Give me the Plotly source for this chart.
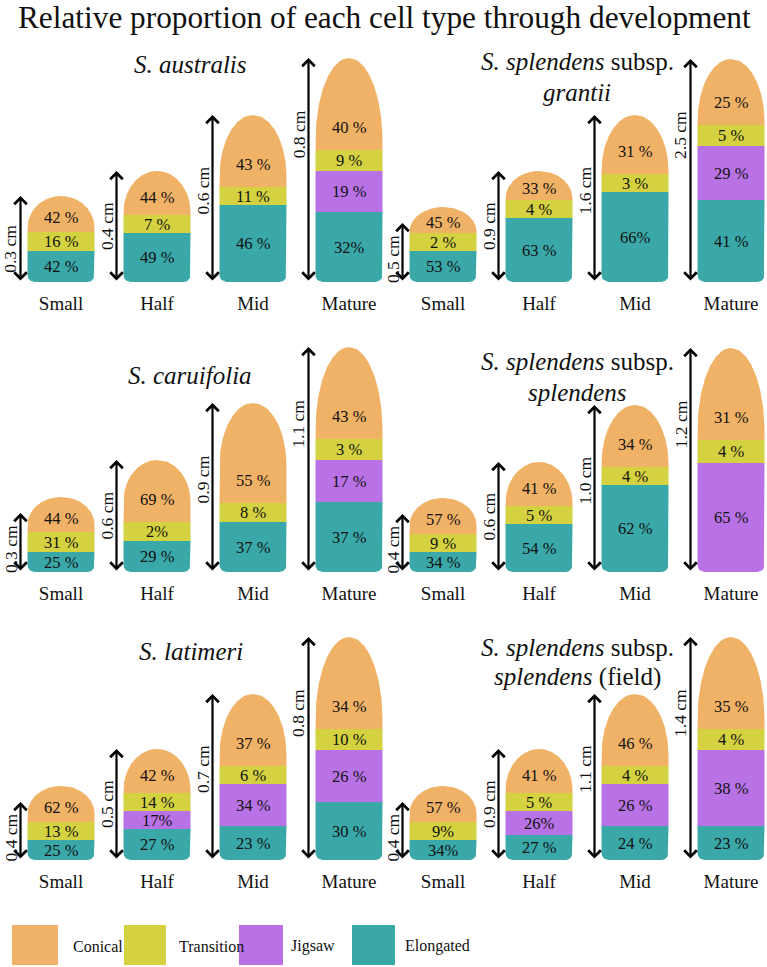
import numpy as np
import plotly.graph_objects as go

# ---------------- data ----------------
title = "Relative proportion of each cell type through development"
stages = ["Small", "Half", "Mid", "Mature"]
cell_types = ["Conical", "Transition", "Jigsaw", "Elongated"]
colors = ["#F0B266", "#D4D240", "#B872E6", "#3AA8A8"]

panel_title_l1 = ["<i>S. australis</i>", "<i>S. splendens</i> subsp.",
                  "<i>S. caruifolia</i>", "<i>S. splendens</i> subsp.",
                  "<i>S. latimeri</i>", "<i>S. splendens</i> subsp."]
panel_title_l2 = ["", "<i>grantii</i>", "", "<i>splendens</i>", "", "<i>splendens</i> (field)"]

# percentage of each cell type (panel x stage); 0 = absent
conical_pct = [[42, 44, 43, 40], [45, 33, 31, 25], [44, 69, 55, 43],
               [57, 41, 34, 31], [62, 42, 37, 34], [57, 41, 46, 35]]
transition_pct = [[16, 7, 11, 9], [2, 4, 3, 5], [31, 2, 8, 3],
                  [9, 5, 4, 4], [13, 14, 6, 10], [9, 5, 4, 4]]
jigsaw_pct = [[0, 0, 0, 19], [0, 0, 0, 29], [0, 0, 0, 17],
              [0, 0, 0, 65], [0, 17, 34, 26], [0, 26, 26, 38]]
elongated_pct = [[42, 49, 46, 32], [53, 63, 66, 41], [25, 29, 37, 37],
                 [34, 54, 62, 0], [25, 27, 23, 30], [34, 27, 24, 23]]
# labels written without a space before "%": (panel, stage, cell type)
no_space_labels = {(0, 3, 3), (1, 2, 3), (2, 1, 1), (4, 1, 2), (5, 0, 1), (5, 0, 3), (5, 1, 2)}

# drawn segment heights (panel x stage)
conical_h = [[36, 44, 72, 92], [26, 29, 59, 66], [35, 62, 100, 92],
             [36, 44, 62, 92], [36, 44, 72, 92], [36, 44, 72, 92]]
transition_h = [[19, 18, 18, 21], [18, 18, 18, 21], [20, 19, 19, 21],
                [18, 18, 18, 23], [18, 18, 18, 21], [18, 18, 18, 21]]
jigsaw_h = [[0, 0, 0, 41], [0, 0, 0, 54], [0, 0, 0, 42],
            [0, 0, 0, 109], [0, 18, 42, 52], [0, 24, 42, 76]]
elongated_h = [[31, 49, 77, 70], [31, 64, 90, 82], [20, 31, 50, 70],
               [20, 48, 87, 0], [20, 31, 34, 58], [20, 25, 34, 34]]

# organ length (cm) and drawn length of the scale arrow
length_cm = [[0.3, 0.4, 0.6, 0.8], [0.5, 0.9, 1.6, 2.5], [0.3, 0.6, 0.9, 1.1],
             [0.4, 0.6, 1.0, 1.2], [0.4, 0.5, 0.7, 0.8], [0.4, 0.9, 1.1, 1.4]]
arrow_h = [[86, 111, 167, 224], [59, 111, 167, 223], [59, 112, 169, 225],
           [58, 110, 167, 224], [58, 111, 166, 223], [58, 111, 166, 223]]

pct = [conical_pct, transition_pct, jigsaw_pct, elongated_pct]
seg_h = [conical_h, transition_h, jigsaw_h, elongated_h]

# ---------------- layout constants ----------------
FIG_W, FIG_H = 767, 967
FONT = "Liberation Serif, Times New Roman, serif"
baselines = [282, 572, 860]           # px from top
YSPAN = 250
PX_PER_X = 96.0
col_first_center = [61, 443]
col_edges = [(0, 383.5), (383.5, FIG_W)]
petal_w = 67.0
corner_r = 7.0
label_frac = [0.38, 0.5, 0.545, 0.657]
PCT_SIZE = 16.5


def px(p):
    return p / FIG_W


def py(p):
    return 1 - p / FIG_H


def half_width(y, H, d):
    hw = petal_w / 2
    if y < corner_r:
        hw = petal_w / 2 - corner_r + np.sqrt(max(corner_r ** 2 - (corner_r - y) ** 2, 0.0))
    y0 = H - d
    if y > y0:
        t = (y - y0) / d
        hw = min(hw, petal_w / 2 * np.sqrt(max(1 - t * t, 0.0)))
    return hw


fig = go.Figure()
annotations = []
layout_axes = {}

for p in range(6):
    row, col = p // 2, p % 2
    ax_id = "" if p == 0 else str(p + 1)
    xref, yref = "x" + ax_id, "y" + ax_id
    B = baselines[row]
    e0, e1 = col_edges[col]
    c0 = col_first_center[col]
    layout_axes["xaxis" + ax_id] = dict(
        domain=[px(e0), px(e1)], range=[(e0 - c0) / PX_PER_X, (e1 - c0) / PX_PER_X],
        anchor=yref, tickvals=list(range(4)), ticktext=stages,
        showgrid=False, zeroline=False, showline=False, ticks="",
        tickfont=dict(family=FONT, size=19, color="#111"), ticklabelstandoff=8, fixedrange=True)
    layout_axes["yaxis" + ax_id] = dict(
        domain=[py(B), py(B - YSPAN)], range=[0, YSPAN], anchor=xref, visible=False, fixedrange=True)

    for s in range(4):
        cx = s
        heights = [seg_h[k][p][s] for k in range(4)]
        H = sum(heights)
        d = min(0.37 * H, 0.95 * heights[0])
        y_base = 0.0
        for k in [3, 2, 1, 0]:   # bottom to top
            h = heights[k]
            if h <= 0:
                continue
            y0, y1 = y_base, y_base + h
            ys = np.linspace(y0, y1, 80)
            hws = np.array([half_width(v, H, d) for v in ys]) / PX_PER_X
            xs = np.concatenate([cx - hws, (cx + hws)[::-1]])
            yy = np.concatenate([ys, ys[::-1]])
            fig.add_trace(go.Scatter(
                x=xs, y=yy, xaxis=xref, yaxis=yref, mode="lines", fill="toself",
                fillcolor=colors[k], line=dict(width=0, color=colors[k]),
                hoverinfo="skip", showlegend=False))
            ty = y0 + min(0.4 * h, 23) if k == 0 else (y0 + y1) / 2
            v = pct[k][p][s]
            txt = f"{v}%" if (p, s, k) in no_space_labels else f"{v} %"
            annotations.append(dict(
                x=cx, y=ty, xref=xref, yref=yref, text=txt, showarrow=False, borderpad=0,
                font=dict(family=FONT, size=PCT_SIZE, color="#111"),
                xanchor="center", yanchor="middle"))
            y_base = y1

        # scale arrow with its length label
        axx = cx - (petal_w / 2 + 7) / PX_PER_X
        annotations.append(dict(
            x=axx, y=arrow_h[p][s], ax=axx, ay=0, xref=xref, yref=yref, axref=xref, ayref=yref,
            text="", showarrow=True, arrowside="end+start", arrowhead=4, startarrowhead=4,
            arrowsize=1.1, startarrowsize=1.1, arrowwidth=2.2, arrowcolor="#000",
            standoff=0, startstandoff=0))
        annotations.append(dict(
            x=axx - 10 / PX_PER_X, y=label_frac[s] * arrow_h[p][s], xref=xref, yref=yref,
            text=f"{length_cm[p][s]:.1f} cm", showarrow=False, textangle=-90, borderpad=0,
            font=dict(family=FONT, size=17.5, color="#111"), xanchor="center", yanchor="middle"))

# panel titles (px positions)
title_pos = [(190, 65, None), (577, 62, 92), (190, 375, None), (577, 361, 392),
             (191, 651, None), (577, 647, 677)]
for p in range(6):
    x0, y1, y2 = title_pos[p]
    annotations.append(dict(x=px(x0), y=py(y1), xref="paper", yref="paper",
                            text=panel_title_l1[p], showarrow=False, borderpad=0,
                            font=dict(family=FONT, size=25, color="#111"),
                            xanchor="center", yanchor="middle"))
    if y2 is not None:
        annotations.append(dict(x=px(x0), y=py(y2), xref="paper", yref="paper",
                                text=panel_title_l2[p], showarrow=False, borderpad=0,
                                font=dict(family=FONT, size=25, color="#111"),
                                xanchor="center", yanchor="middle"))

annotations.append(dict(x=px(384), y=py(17), xref="paper", yref="paper", text=title,
                        showarrow=False, borderpad=0, font=dict(family=FONT, size=31.3, color="#111"),
                        xanchor="center", yanchor="middle"))

# legend (drawn as boxes + labels)
shapes = []
leg_box = [(12, 58), (124, 166), (239, 283), (352, 395)]
leg_text_x = [72, 178, 290, 404]
for k in range(4):
    x0, x1 = leg_box[k]
    shapes.append(dict(type="rect", xref="paper", yref="paper",
                       x0=px(x0), x1=px(x1), y0=py(965), y1=py(925),
                       fillcolor=colors[k], line=dict(width=0)))
    annotations.append(dict(x=px(leg_text_x[k]), y=py(946), xref="paper", yref="paper",
                            text=cell_types[k], showarrow=False, borderpad=0,
                            font=dict(family=FONT, size=16, color="#111"),
                            xanchor="left", yanchor="middle"))

fig.update_layout(
    width=FIG_W, height=FIG_H, autosize=False,
    margin=dict(l=0, r=0, t=0, b=0),
    paper_bgcolor="white", plot_bgcolor="white",
    showlegend=False, annotations=annotations, shapes=shapes,
    **layout_axes)

fig.write_html("out.html", config={"displayModeBar": False},
               post_script="document.body.style.margin='0px';document.body.style.padding='0px';")
